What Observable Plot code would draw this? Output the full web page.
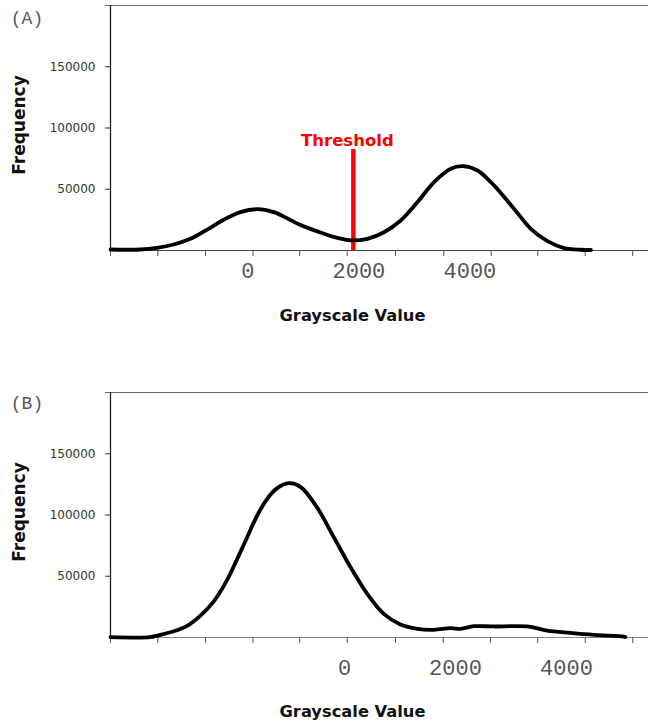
<!DOCTYPE html>
<html>
<head>
<meta charset="utf-8">
<script src="https://cdn.jsdelivr.net/npm/d3@7"></script>
<script src="https://cdn.jsdelivr.net/npm/@observablehq/plot@0.6"></script>
<style>
  html, body { margin: 0; padding: 0; background: #fff; }
  #panels svg { display: block; }
</style>
</head>
<body>
<div id="panels"></div>
<script>
// Histogram (A): grayscale value vs. pixel frequency, bimodal
const grayA = [-2476, -1940, -1636, -1337, -1036, -734, -435, -134, 168, 467, 769, 949,
  1250, 1550, 1851, 2152, 2452, 2753, 3054, 3354, 3655, 3866, 4137, 4377, 4557, 4797,
  5098, 5399, 5699, 6000, 6180];
const freqA = [800, 800, 2200, 4900, 9550, 17100, 25100, 31300, 33700, 31300, 24800, 20800,
  15600, 11000, 8300, 9550, 14900, 24500, 39400, 55800, 66700, 68800, 65300, 55800, 47000, 34000,
  17700, 7600, 1900, 600, 400];

// Histogram (B): one dominant dark peak with a long flat tail
const grayB = [-4216, -3500, -3375, -3076, -2834, -2595, -2355, -2114, -1933, -1753, -1573,
  -1393, -1213, -1004, -793, -492, -193, 108, 409, 708, 1009, 1310, 1609, 1910, 2090, 2330,
  2690, 3290, 3650, 4070, 4490, 5030, 5060];
const freqB = [300, 300, 1600, 5100, 9500, 17800, 29500, 47000, 64200, 81900, 99600,
  113200, 121900, 126000, 123000, 106000, 81900, 57400, 35700, 19300, 10600, 7100, 6300, 7600, 7100, 9200,
  9000, 9000, 5700, 3800, 2200, 800, 400];

// Threshold separating the two modes of (A)
const thresholdValue = 1900;
const thresholdTop = 82400;

// Axis ticks and labels
const xLabels = [0, 2000, 4000];
const yLabels = [50000, 100000, 150000];
const minorTicksA = [-2476, -1623, -764, 92, 933, 1789, 2659, 3530, 4384, 5222, 6077, 6933];
const minorTicksB = [-4216, -3364, -2505, -1649, -807, 49, 919, 1778, 2631, 3481, 4337, 5193];
const xDomainA = [-2476, 7218];
const xDomainB = [-4216, 5477];
const yMax = 200000;

function panel({tag, gray, freq, xDomain, minorTicks, height, labelPad, titleDy, tagDy, baseColor, extra = []}) {
  const rows = gray.map((g, i) => ({g, f: freq[i]}));
  return Plot.plot({
    width: 648,
    height,
    marginLeft: 110,
    marginRight: 0,
    marginTop: 5,
    marginBottom: height - 250,
    x: {domain: xDomain},
    y: {domain: [0, yMax]},
    style: {background: "#fff", overflow: "visible"},
    marks: [
      // top border and baseline
      Plot.ruleY([yMax], {x1: xDomain[0] - 90, x2: xDomain[1], stroke: "#666", strokeWidth: 1.2}),
      Plot.ruleY([0], {stroke: baseColor, strokeWidth: 1.2}),
      // unlabeled tick marks along the bottom
      Plot.axisX({ticks: minorTicks, tickSize: 6, tickFormat: () => "", label: null, color: "#555"}),
      // grayscale labels
      Plot.axisX({ticks: xLabels, tickSize: 0, tickPadding: labelPad, tickFormat: d => String(d),
        label: null, fontSize: 22, fontFamily: "Liberation Mono, monospace", color: "#555"}),
      // frequency labels
      Plot.axisY({ticks: yLabels, tickSize: 5, tickPadding: 10, tickFormat: d => String(d),
        label: null, fontSize: 12, fontFamily: "DejaVu Sans, sans-serif", color: "#333"}),
      // left axis line
      Plot.ruleX([xDomain[0]], {stroke: "#222", strokeWidth: 1.3}),
      ...extra,
      // the histogram curve
      Plot.line(rows, {x: "g", y: "f", stroke: "#000", strokeWidth: 3.8, curve: "catmull-rom"}),
      // panel tag
      Plot.text([tag], {text: d => d, frameAnchor: "top-left", dx: -83.5, dy: tagDy,
        textAnchor: "middle", lineAnchor: "middle", fontSize: 18,
        fontFamily: "Liberation Mono, monospace", fill: "#555"}),
      // axis titles
      Plot.text(["Frequency"], {text: d => d, frameAnchor: "left", rotate: -90, dx: -91.4, dy: -3,
        textAnchor: "middle", lineAnchor: "middle", fontSize: 17, fontWeight: "bold",
        fontFamily: "DejaVu Sans, sans-serif", fill: "#111"}),
      Plot.text(["Grayscale Value"], {text: d => d, frameAnchor: "bottom-left", dx: 242, dy: titleDy,
        textAnchor: "middle", lineAnchor: "middle", fontSize: 16.3, fontWeight: "bold",
        fontFamily: "DejaVu Sans, sans-serif", fill: "#111"})
    ]
  });
}

const thresholdMarks = [
  Plot.ruleX([thresholdValue], {y1: 0, y2: thresholdTop, stroke: "#f00", strokeWidth: 4.5}),
  Plot.text([thresholdValue], {x: d => d, y: thresholdTop, text: () => "Threshold",
    dx: -6, dy: -4, lineAnchor: "bottom", textAnchor: "middle", fontSize: 16.5, fontWeight: "bold",
    fontFamily: "DejaVu Sans, sans-serif", fill: "#f00"})
];

const root = document.getElementById("panels");
root.appendChild(panel({
  tag: "(A)", gray: grayA, freq: freqA, xDomain: xDomainA, minorTicks: minorTicksA,
  height: 387, labelPad: 12, titleDy: 65, tagDy: 13, baseColor: "#444", extra: thresholdMarks
}));
root.appendChild(panel({
  tag: "(B)", gray: grayB, freq: freqB, xDomain: xDomainB, minorTicks: minorTicksB,
  height: 336, labelPad: 22, titleDy: 74, tagDy: 11, baseColor: "#888"
}));
</script>
</body>
</html>
